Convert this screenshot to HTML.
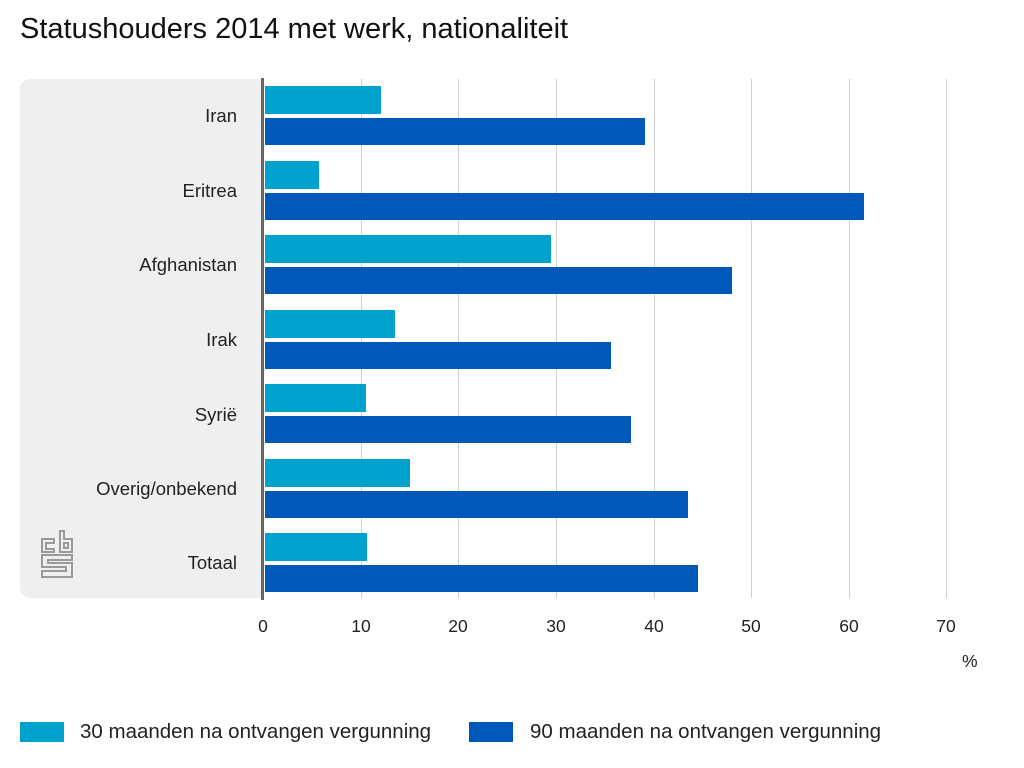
<!DOCTYPE html>
<html><head><meta charset="utf-8"><style>
body{margin:0;width:1024px;height:768px;background:#fff;font-family:"Liberation Sans",sans-serif;position:relative;overflow:hidden;color:#222}
.a{position:absolute}
.t{font-size:29px;left:20px;top:13px;color:#111}
.panel{left:20px;top:79px;width:243px;height:519px;background:#efefef;border-radius:10px 0 0 10px}
.g{width:1px;background:#d0d0d0;top:79px;height:519px}
.lb{font-size:18.5px;text-align:right;right:787px;width:230px}
.l{background:#00a1cd;height:28px;left:265px}
.d{background:#0058b8;height:27px;left:265px}
.tk{font-size:17.5px;top:616px;width:40px;text-align:center}
.lg{font-size:20.5px;top:720px}
</style></head><body>
<div class="a t">Statushouders 2014 met werk, nationaliteit</div>
<div class="a panel"></div>
<div class="a g" style="left:361px"></div>
<div class="a g" style="left:458px"></div>
<div class="a g" style="left:556px"></div>
<div class="a g" style="left:654px"></div>
<div class="a g" style="left:751px"></div>
<div class="a g" style="left:849px"></div>
<div class="a g" style="left:946px"></div>
<div class="a" style="left:261px;top:78px;width:3px;height:522px;background:#666"></div>

<div class="a lb" style="top:105px">Iran</div>
<div class="a lb" style="top:180px">Eritrea</div>
<div class="a lb" style="top:254px">Afghanistan</div>
<div class="a lb" style="top:329px">Irak</div>
<div class="a lb" style="top:404px">Syrië</div>
<div class="a lb" style="top:478px">Overig/onbekend</div>
<div class="a lb" style="top:552px">Totaal</div>

<div class="a l" style="top:86px;width:116px"></div>
<div class="a d" style="top:118px;width:380px"></div>
<div class="a l" style="top:161px;width:54px"></div>
<div class="a d" style="top:193px;width:599px"></div>
<div class="a l" style="top:235px;width:286px"></div>
<div class="a d" style="top:267px;width:467px"></div>
<div class="a l" style="top:310px;width:130px"></div>
<div class="a d" style="top:342px;width:346px"></div>
<div class="a l" style="top:384px;width:101px"></div>
<div class="a d" style="top:416px;width:366px"></div>
<div class="a l" style="top:459px;width:145px"></div>
<div class="a d" style="top:491px;width:423px"></div>
<div class="a l" style="top:533px;width:102px"></div>
<div class="a d" style="top:565px;width:433px"></div>

<svg class="a" style="left:40px;top:529px" width="34" height="50" viewBox="0 0 34 50" fill="none" stroke="#9a9a9a" stroke-width="2">
<path d="M2 10h12v4H6v6h8v3H2z"/><path d="M20 2h4v8h8v13H20z"/><path d="M24 14v5h4v-5z"/>
<path d="M32 26H2v12h24v4H2v6h30V34H8v-3h24z"/>
</svg>

<div class="a tk" style="left:243px">0</div>
<div class="a tk" style="left:341px">10</div>
<div class="a tk" style="left:438px">20</div>
<div class="a tk" style="left:536px">30</div>
<div class="a tk" style="left:634px">40</div>
<div class="a tk" style="left:731px">50</div>
<div class="a tk" style="left:829px">60</div>
<div class="a tk" style="left:926px">70</div>
<div class="a" style="left:962px;top:651px;font-size:17.5px">%</div>

<div class="a" style="left:20px;top:722px;width:44px;height:20px;background:#00a1cd"></div>
<div class="a lg" style="left:80px">30 maanden na ontvangen vergunning</div>
<div class="a" style="left:469px;top:722px;width:44px;height:20px;background:#0058b8"></div>
<div class="a lg" style="left:530px">90 maanden na ontvangen vergunning</div>
</body></html>
